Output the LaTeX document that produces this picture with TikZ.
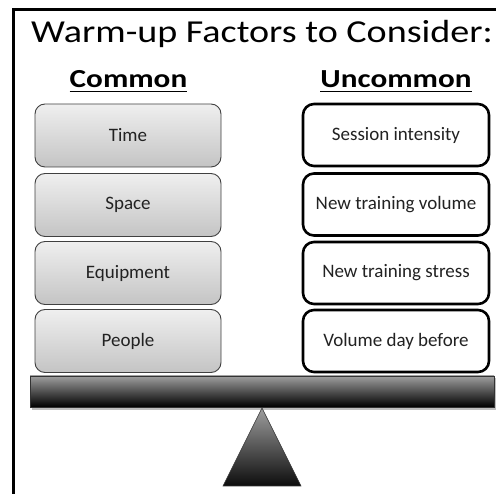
\documentclass[tikz,border=0pt]{standalone}
\usepackage{fontspec}
\setmainfont{Carlito}
\newfontfamily\titlefont[FakeStretch=1.19]{Carlito}
\newfontfamily\headfont[FakeStretch=1.2]{Carlito}
\definecolor{boxtext}{HTML}{222222}
\definecolor{lighttop}{HTML}{EFEFEF}
\definecolor{lightbot}{HTML}{C4C4C4}
\definecolor{edgegray}{HTML}{404040}
\tikzset{
  commonbox/.style={draw=edgegray, line width=0.9pt, rounded corners=10pt,
    top color=lighttop, bottom color=lightbot, minimum width=186pt,
    minimum height=63pt, inner sep=0pt, text=boxtext, font=\fontsize{19}{22}\selectfont},
  uncommonbox/.style={draw=black, line width=2.6pt, rounded corners=11pt, fill=white,
    minimum width=186pt, minimum height=62pt, inner sep=0pt, text=boxtext,
    font=\fontsize{19}{22}\selectfont},
  heading/.style={inner sep=0pt, anchor=base, font=\headfont\bfseries\fontsize{26}{30}\selectfont},
  uline/.style={line width=1.1pt}
}
\begin{document}
\begin{tikzpicture}[x=1pt,y=-1pt]
\useasboundingbox (0,0) rectangle (496,494);
% frame
\draw[line width=3pt] (13.5,494) -- (13.5,9.5) -- (496,9.5);
% title
\node[anchor=base west, inner sep=0pt, font=\titlefont\fontsize{32}{36}\selectfont] (title) at (31,43) {Warm-up Factors to Consider:};
% headings
\node[heading] (common) at (128.5,88) {Common};
\node[heading] (uncommon) at (396,88) {Uncommon};
\draw[uline] ([yshift=-3.5pt]common.base west) -- ([yshift=-3.5pt]common.base east);
\draw[uline] ([yshift=-3.5pt]uncommon.base west) -- ([yshift=-3.5pt]uncommon.base east);
% common boxes
\node[commonbox] (time) at (128,135.5) {Time};
\node[commonbox] (space) at (128,205) {Space};
\node[commonbox] (equip) at (128,273) {Equipment};
\node[commonbox] (people) at (128,341) {People};
% uncommon boxes
\node[uncommonbox] (intensity) at (396,135) {Session intensity};
\node[uncommonbox] (volume) at (396,204.5) {New training volume};
\node[uncommonbox] (stress) at (396,273) {New training stress};
\node[uncommonbox] (daybefore) at (396,341) {Volume day before};
% beam
\fill[black!25] (32,378) rectangle (496,410);
\draw[draw=black!80, line width=0.6pt, top color=black!38, bottom color=black] (30,376) rectangle (494,407);
% fulcrum
\draw[draw=black!80, line width=0.6pt, top color=black!38, bottom color=black!95] (262,408) -- (301,486) -- (223,486) -- cycle;
\end{tikzpicture}
\end{document}
